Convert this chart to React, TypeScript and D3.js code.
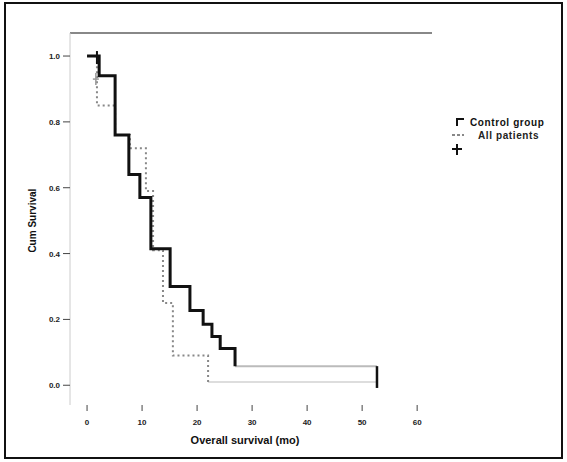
import React from 'react';
import * as d3 from 'd3';

// survival steps: [months, cum survival]
const groupA: [number, number][] = [
  [0, 1.0], [2.2, 0.94], [5.1, 0.76], [7.6, 0.64], [9.6, 0.57], [11.6, 0.415],
  [15.1, 0.3], [18.7, 0.227], [21.1, 0.185], [22.7, 0.148], [24.2, 0.112], [26.9, 0.058],
];
const groupATail: [number, number][] = [[26.9, 0.058], [52.7, 0.058]];
const groupACensor: [number, number][] = [[1.8, 1.0]];

const groupB: [number, number][] = [
  [0, 1.0], [1.8, 0.85], [5.1, 0.76], [7.8, 0.72], [10.7, 0.59], [12.0, 0.41],
  [13.8, 0.25], [15.6, 0.09], [22.0, 0.01],
];
const groupBTail: [number, number][] = [[22.0, 0.01], [52.7, 0.01]];
const groupBCensor: [number, number][] = [[1.6, 0.93]];

// last censored case, shared by both tails
const lastCensor = 52.7;

const xTicks = [0, 10, 20, 30, 40, 50, 60];
const yTicks = [1.0, 0.8, 0.6, 0.4, 0.2, 0.0];
const legendLabels = ['Control group', 'All patients'];

const W = 567;
const H = 462;

const App = () => {
  const x = d3.scaleLinear().domain([-3.1, 62.7]).range([70, 432]);
  const y = d3.scaleLinear().domain([-0.06, 1.07]).range([405, 33]);

  const step = d3
    .line<[number, number]>()
    .x((d) => x(d[0]))
    .y((d) => y(d[1]))
    .curve(d3.curveStepAfter);

  const font = '"Liberation Sans", Arial, sans-serif';

  return (
    <svg width={W} height={H} style={{ position: 'absolute', left: 0, top: 0 }} fontFamily={font}>
      <rect x={0} y={0} width={W} height={H} fill="#fff" />
      <rect x={5} y={3} width={557} height={455} fill="none" stroke="#111" strokeWidth={2} />

      {/* frame lines */}
      <line x1={70} x2={432} y1={33} y2={33} stroke="#888" strokeWidth={2} />
      <line x1={70} x2={70} y1={33} y2={405} stroke="#ccc" strokeWidth={1} />

      {/* y axis */}
      {yTicks.map((t) => (
        <g key={t}>
          <line x1={63} x2={70} y1={y(t)} y2={y(t)} stroke="#444" strokeWidth={1} />
          <text x={60} y={y(t) + 3} textAnchor="end" fontSize={8} fontWeight="bold" fill="#222">
            {t.toFixed(1)}
          </text>
        </g>
      ))}
      <text
        transform={`translate(36, ${y(0.5)}) rotate(-90)`}
        textAnchor="middle"
        fontSize={10}
        fontWeight="bold"
        fill="#111"
      >
        Cum Survival
      </text>

      {/* x axis */}
      {xTicks.map((t) => (
        <g key={t}>
          <line x1={x(t)} x2={x(t)} y1={405} y2={411} stroke="#444" strokeWidth={1} />
          <text x={x(t)} y={425} textAnchor="middle" fontSize={8} fontWeight="bold" fill="#222">
            {t}
          </text>
        </g>
      ))}
      <text x={245} y={444} textAnchor="middle" fontSize={11} fontWeight="bold" fill="#111">
        Overall survival (mo)
      </text>

      {/* tails */}
      <path d={step(groupATail) || ''} fill="none" stroke="#bbb" strokeWidth={2} />
      <path d={step(groupBTail) || ''} fill="none" stroke="#ddd" strokeWidth={2} />

      {/* group B dotted */}
      <path d={step(groupB) || ''} fill="none" stroke="#888" strokeWidth={2} strokeDasharray="2,3" />
      {/* group A solid */}
      <path d={step(groupA) || ''} fill="none" stroke="#111" strokeWidth={3} />

      {/* censor marks */}
      {groupBCensor.map((d, i) => (
        <g key={'b' + i} stroke="#999" strokeWidth={1.5}>
          <line x1={x(d[0])} x2={x(d[0])} y1={y(d[1]) - 6} y2={y(d[1]) + 6} />
          <line x1={x(d[0]) - 3} x2={x(d[0]) + 3} y1={y(d[1])} y2={y(d[1])} />
        </g>
      ))}
      {groupACensor.map((d, i) => (
        <g key={'a' + i} stroke="#111" strokeWidth={2}>
          <line x1={x(d[0])} x2={x(d[0])} y1={y(d[1]) - 5} y2={y(d[1]) + 8} />
          <line x1={x(d[0]) - 3} x2={x(d[0]) + 3} y1={y(d[1])} y2={y(d[1])} />
        </g>
      ))}
      <line
        x1={x(lastCensor)}
        x2={x(lastCensor)}
        y1={y(groupATail[1][1])}
        y2={y(groupBTail[1][1]) + 6}
        stroke="#111"
        strokeWidth={2.5}
      />

      {/* legend */}
      <g>
        <path d="M457,126 V119 H464" fill="none" stroke="#111" strokeWidth={2} />
        <text x={470} y={126} fontSize={10} fontWeight="bold" fill="#111" letterSpacing={0.6}>
          {legendLabels[0]}
        </text>
        <line x1={452} x2={464} y1={135} y2={135} stroke="#888" strokeWidth={2} strokeDasharray="3,2" />
        <text x={478} y={139} fontSize={10} fontWeight="bold" fill="#222" letterSpacing={0.6}>
          {legendLabels[1]}
        </text>
        <g stroke="#111" strokeWidth={2}>
          <line x1={452} x2={462} y1={149} y2={149} />
          <line x1={457} x2={457} y1={144} y2={155} />
        </g>
      </g>
    </svg>
  );
};

export default App;
